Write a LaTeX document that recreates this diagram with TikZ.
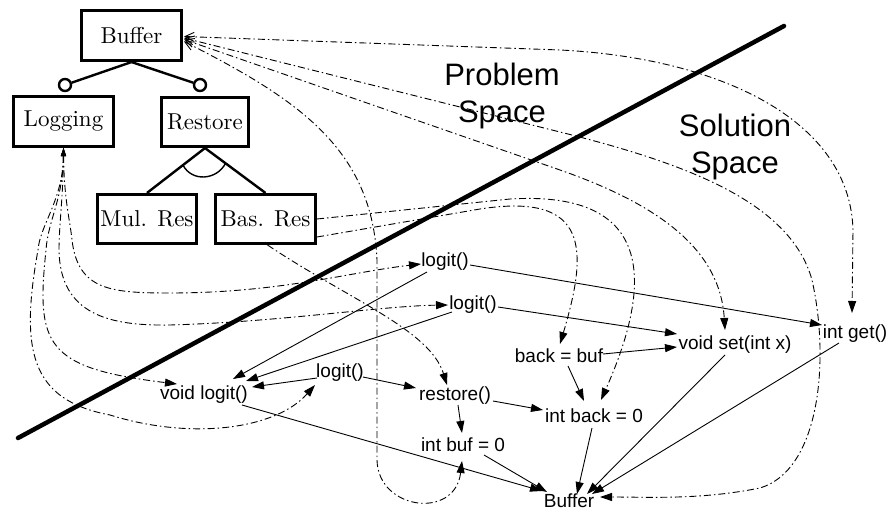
\documentclass[tikz,border=0pt]{standalone}
\usepackage{fontspec}
\newfontfamily\codefont{Liberation Sans}
\newfontfamily\featfont{lmroman10-regular.otf}
\usetikzlibrary{arrows.meta,calc}
\begin{document}
\begin{tikzpicture}[x=1pt,y=-1pt,
  feature/.style={rectangle,draw=black,inner sep=0pt,font=\featfont\fontsize{23}{27}\selectfont},
  code/.style={inner sep=0pt,font=\codefont\fontsize{19}{22}\selectfont},
  spacelabel/.style={align=center,inner sep=0pt,font=\codefont\fontsize{31}{37}\selectfont},
  tree/.style={line width=2.4pt},
  optcirc/.style={circle,draw=black,fill=white,inner sep=0pt,minimum size=12pt},
  call/.style={line width=0.9pt,-{Triangle[length=12pt,width=8pt]}},
  trace/.style={line width=0.9pt,dash pattern=on 7pt off 3pt on 1.5pt off 3pt,-{Triangle[length=12pt,width=8pt]}},
  fromlog/.style={trace,{Triangle[length=8pt,width=5pt]}-{Triangle[length=12pt,width=8pt]}},
  frombuf/.style={trace,{Straight Barb[length=9pt,width=9pt]}-{Triangle[length=12pt,width=8pt]}},
  boundary/.style={line width=4.5pt,line cap=round}]

\fill[white] (0,0) rectangle (886,510);
\useasboundingbox (0,0) rectangle (886,510);

% feature model
\node[feature,line width=2.6pt,minimum width=100.5pt,minimum height=50.5pt] (buffer) at (131.5,35.5) {Buffer};
\node[feature,line width=2.6pt,minimum width=100.5pt,minimum height=50.5pt] (logging) at (63.5,121.5) {Logging};
\node[feature,line width=2.6pt,minimum width=87.5pt,minimum height=49.5pt] (restore) at (205,122) {Restore};
\node[feature,line width=2.6pt,minimum width=99.5pt,minimum height=49.5pt] (mulres) at (147,219) {Mul. Res};
\node[feature,line width=2.6pt,minimum width=100.5pt,minimum height=49.5pt] (basres) at (265.5,219) {Bas. Res};
\node[optcirc,line width=2.4pt] (optlog) at (65,85) {};
\node[optcirc,line width=2.4pt] (optres) at (200,85) {};
\draw[tree] (buffer.south) -- (optlog);
\draw[tree] (buffer.south) -- (optres);
\draw[tree] (restore.south) -- (mulres.north);
\draw[tree] (restore.south) -- (basres.north);
% alternative-group arc
\draw[line width=1.4pt] ($(restore.south)!0.38!(mulres.north)$) .. controls +(9,17) and +(-9,17) .. ($(restore.south)!0.34!(basres.north)$);

% boundary between the two spaces
\coordinate (bl) at (18,438);
\coordinate (tr) at (784,26);
\draw[boundary] (bl) -- (tr);
\node[spacelabel] (problem) at (502,96) {Problem\\Space};
\node[spacelabel] (solution) at (735,147) {Solution\\Space};

% code elements
\node[code] (l1) at (445,262) {logit()};
\node[code] (l2) at (473,305) {logit()};
\node[code] (l3) at (340,373) {logit()};
\node[code] (vl) at (204,395) {void logit()};
\node[code] (rs) at (455,396) {restore()};
\node[code] (ib) at (463,445) {int buf = 0};
\node[code] (bf) at (569,500.5) {Buffer};
\node[code] (ibk) at (594,416) {int back = 0};
\node[code] (bb) at (559,356) {back = buf};
\node[code] (vs) at (735,345) {void set(int x)};
\node[code] (ig) at (855,334) {int get()};

% references between code elements
\draw[call] ([shift={(25,3)}]l1.center) -- ([shift={(-33,-9)}]ig.center);
\draw[call] ([shift={(25,2)}]l2.center) -- ([shift={(-58,-11)}]vs.center);
\draw[call] ([shift={(44,-2)}]bb.center) -- ([shift={(-58,2)}]vs.center);
\draw[call] ([shift={(-18,10)}]l1.center) -- ([shift={(29,-16)}]vl.center);
\draw[call] ([shift={(-21,7)}]l2.center) -- ([shift={(42,-14)}]vl.center);
\draw[call] ([shift={(-23,5)}]l3.center) -- ([shift={(48,-8)}]vl.center);
\draw[call] ([shift={(23,4)}]l3.center) -- ([shift={(-39,-8)}]rs.center);
\draw[call] ([shift={(38,5)}]rs.center) -- ([shift={(-51,-6)}]ibk.center);
\draw[call] ([shift={(3,9)}]rs.center) -- ([shift={(-1,-12)}]ib.center);
\draw[call] ([shift={(21,10)}]ib.center) -- ([shift={(-22,-8.5)}]bf.center);
\draw[call] ([shift={(38,10)}]vl.center) -- ([shift={(-27,-9.5)}]bf.center);
\draw[call] ([shift={(-2,12)}]ibk.center) -- ([shift={(8,-6.5)}]bf.center);
\draw[call] ([shift={(-10,10)}]vs.center) -- ([shift={(18,-6.5)}]bf.center);
\draw[call] ([shift={(-16,9)}]ig.center) -- ([shift={(23,-6.5)}]bf.center);
\draw[call] ([shift={(9,10)}]bb.center) -- ([shift={(-10,-15)}]ibk.center);

% traces from the feature Buffer
\draw[frombuf] ([shift={(1,1)}]buffer.east) -- (560,50) .. controls (720,58) and (850,120) .. (853,230) -- ([shift={(-3,-21)}]ig.center);
\draw[frombuf] ([shift={(1,2.5)}]buffer.east) -- (560,132) .. controls (680,162) and (790,200) .. (812,280) .. controls (830,360) and (820,470) .. (760,488) .. controls (700,500) and (650,497) .. ([shift={(31,-3.5)}]bf.center);
\draw[frombuf] ([shift={(1,4)}]buffer.east) -- (560,170) .. controls (660,205) and (720,250) .. ([shift={(-10,-15)}]vs.center);
\draw[frombuf] ([shift={(1,6)}]buffer.east) .. controls (300,100) and (372,150) .. (377,260) -- (377,460) .. controls (378,510) and (455,520) .. ([shift={(-1,16)}]ib.center);

% traces from the feature Bas. Res
\draw[trace] (basres.east) -- (510,199) .. controls (660,190) and (650,290) .. ([shift={(7,-16)}]ibk.center);
\draw[trace] ([shift={(0,18)}]basres.east) -- (480,209) .. controls (590,192) and (588,250) .. ([shift={(1,-12)}]bb.center);
\draw[trace] ([shift={(2,0)}]basres.south) .. controls (350,300) and (430,330) .. ([shift={(-8,-11)}]rs.center);

% traces from the feature Logging
\draw[fromlog] (logging.south) .. controls (64,200) and (70,220) .. (72,240) .. controls (78,290) and (110,293) .. (170,293) .. controls (280,293) and (350,272) .. ([shift={(-24,2)}]l1.center);
\draw[fromlog] (logging.south) .. controls (63,200) and (59,225) .. (59,250) .. controls (60,315) and (110,326) .. (170,325) .. controls (280,322) and (380,306) .. ([shift={(-25,0)}]l2.center);
\draw[fromlog] (logging.south) .. controls (63,200) and (48,220) .. (46,250) .. controls (36,345) and (45,368) .. ([shift={(-27,-11)}]vl.center);
\draw[fromlog] (logging.south) .. controls (63,200) and (40,225) .. (38,250) .. controls (20,350) and (30,400) .. (110,415) .. controls (190,440) and (275,430) .. ([shift={(-25,12)}]l3.center);
\end{tikzpicture}
\end{document}
